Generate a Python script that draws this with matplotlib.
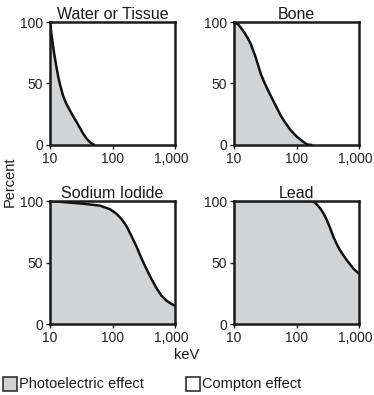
import matplotlib.pyplot as plt
from matplotlib.patches import Rectangle
from matplotlib.ticker import FixedLocator, NullLocator
from matplotlib.transforms import ScaledTranslation

plt.rcParams['font.family'] = ['Liberation Sans', 'DejaVu Sans']

# photoelectric share (%) vs photon energy (keV)
titles = ["Water or Tissue", "Bone", "Sodium Iodide", "Lead"]

water_kev = [10, 10.37, 10.77, 11.59, 12.48, 13.43, 14.45, 16.14, 18.03,
             20.89, 23.33, 26.76, 30.2, 34.1, 38.4, 43.65, 47.9, 52.5]
water_pct = [100, 93.1, 86.6, 75.2, 65.4, 56.5, 49.2, 40.2, 34.1,
             28.0, 23.6, 18.5, 13.8, 9.1, 5.3, 2.3, 0.7, 0]

bone_kev = [10, 11.5, 12.8, 14.5, 16.4, 18.5, 20.2, 22.2, 24.4, 26.8, 30.2,
            34.1, 38.5, 43.6, 49.5, 55.8, 63, 71, 80, 91.2, 103, 117, 133,
            149, 179]
bone_pct = [100, 98.3, 95.6, 91.7, 87.3, 82.3, 77, 71.4, 64.6, 57.9, 51.5,
            45.7, 40.2, 34.8, 29.3, 24, 19.7, 15.9, 12.3, 9.1, 6.4, 4.2, 2,
            0.4, 0]

nai_kev = [10, 18.5, 34.1, 63.1, 91.2, 116.6, 140, 168.5, 202.6, 243.8, 293,
           352, 423, 510, 613, 736, 855, 1000]
nai_pct = [100, 98.9, 97.8, 96.2, 93.3, 89.5, 85.2, 79.3, 71.2, 62.6, 53.0,
           44.4, 36.3, 28.8, 22.8, 18.8, 16.7, 14.8]

lead_kev = [10, 175, 200, 239, 270, 305, 345, 388, 440, 493, 560, 635, 720,
            806, 900, 1000]
lead_pct = [100, 100, 98.5, 94, 90, 84.6, 78, 71, 65, 60.2, 56, 52, 48.5,
            45.3, 43, 41]

x_ticks = [10, 100, 1000]
x_labels = ["10", "100", "1,000"]
y_ticks = [0, 50, 100]

series = [(water_kev, water_pct), (bone_kev, bone_pct),
          (nai_kev, nai_pct), (lead_kev, lead_pct)]

W, H = 374, 395
fig = plt.figure(figsize=(W / 100, H / 100), dpi=100)

grey = "#d2d3d5"
ink = "#1a1a1a"
lefts = [50, 234]
tops = [22, 201]
aw, ah = 125, 123

for i, (kev, pct) in enumerate(series):
    row, col = divmod(i, 2)
    ax = fig.add_axes([lefts[col] / W, (H - tops[row] - ah) / H, aw / W, ah / H])
    ax.fill_between(kev, 0, pct, color=grey, lw=0)
    ax.plot(kev, pct, color="#111111", lw=1.8, solid_capstyle="butt",
            solid_joinstyle="round")
    ax.set_xscale("log")
    ax.set_xlim(10, 1000)
    ax.set_ylim(0, 100)
    ax.xaxis.set_major_locator(FixedLocator(x_ticks))
    ax.xaxis.set_minor_locator(NullLocator())
    ax.set_xticklabels(x_labels)
    ax.set_yticks(y_ticks)
    ax.tick_params(direction="out", length=3, width=1, labelsize=10,
                   pad=2, colors="#222222")
    # last label sits a little left of the axis end, as in the original
    last = ax.get_xticklabels()[-1]
    last.set_transform(last.get_transform() +
                       ScaledTranslation(-3.5 / 100, 0, fig.dpi_scale_trans))
    for s in ax.spines.values():
        s.set_linewidth(1.8)
        s.set_color(ink)
    ax.set_title(titles[i], fontsize=11.5, pad=2, color=ink)

fig.text(10 / W, 1 - 182 / H, "Percent", rotation=90, ha="center", va="center",
         fontsize=10.5, color=ink)
fig.text(187 / W, 1 - 355 / H, "keV", ha="center", va="center",
         fontsize=10.5, color=ink)

# legend boxes
fig.patches.append(Rectangle((3 / W, 1 - 391 / H), 14 / W, 14 / H,
                             transform=fig.transFigure, facecolor=grey,
                             edgecolor="#333333", lw=1.2))
fig.text(19 / W, 1 - 384 / H, "Photoelectric effect", ha="left", va="center",
         fontsize=10.5, color=ink)
fig.patches.append(Rectangle((186 / W, 1 - 391 / H), 14 / W, 14 / H,
                             transform=fig.transFigure, facecolor="white",
                             edgecolor="#333333", lw=1.2))
fig.text(202 / W, 1 - 384 / H, "Compton effect", ha="left", va="center",
         fontsize=10.5, color=ink)

fig.savefig("out.png", dpi=100)
